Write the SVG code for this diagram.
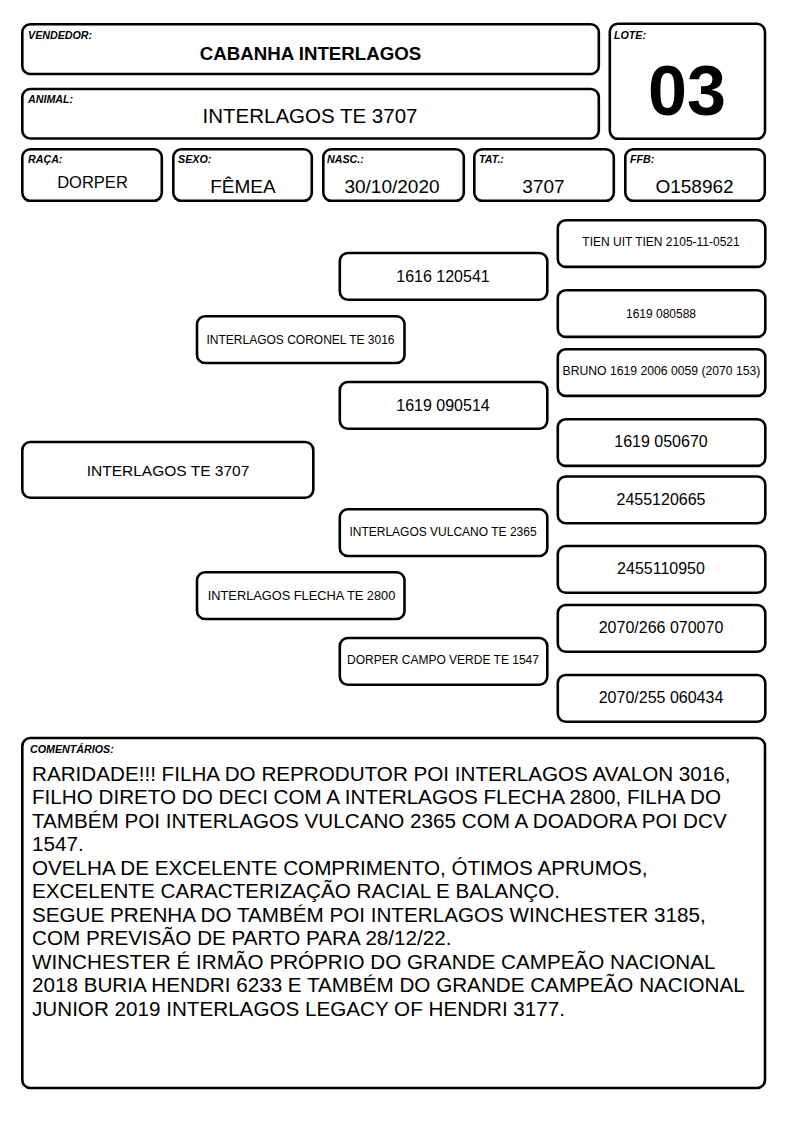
<svg xmlns="http://www.w3.org/2000/svg" width="794" height="1123" viewBox="0 0 794 1123">
<style>
  .box{fill:#fff;stroke:#000;stroke-width:2.6}
  text{font-family:"Liberation Sans",Arial,sans-serif;fill:#000}
  .lbl{font-size:10.7px;font-weight:bold;font-style:italic}
  .c{text-anchor:middle}
  .v{font-size:19px}
  .s{font-size:12px}
  .m{font-size:16px}
  .cm{font-size:20.65px}
</style>
<rect x="0" y="0" width="794" height="1123" fill="#fff"/>
<g id="vendedor">
  <rect class="box" x="22.3" y="24.3" width="576.5" height="49.7" rx="8"/>
  <text class="lbl" x="28" y="39">VENDEDOR:</text>
  <text class="c" x="310.5" y="60" font-size="18.7" font-weight="bold">CABANHA INTERLAGOS</text>
</g>
<g id="animal">
  <rect class="box" x="22.3" y="89" width="576.5" height="49.5" rx="8"/>
  <text class="lbl" x="28" y="102.5">ANIMAL:</text>
  <text class="c" x="310" y="123" font-size="20.5">INTERLAGOS TE 3707</text>
</g>
<g id="lote">
  <rect class="box" x="609.8" y="23.8" width="155.2" height="115" rx="8"/>
  <text class="lbl" x="614" y="38.5">LOTE:</text>
  <text class="c" x="687" y="115" font-size="70" font-weight="bold">03</text>
</g>
<g id="raca">
  <rect class="box" x="22.3" y="149.3" width="139.5" height="51.5" rx="8"/>
  <text class="lbl" x="28" y="163">RAÇA:</text>
  <text class="c" x="92.5" y="188" font-size="16.5">DORPER</text>
</g>
<g id="sexo">
  <rect class="box" x="173.3" y="149.3" width="138.5" height="51.5" rx="8"/>
  <text class="lbl" x="178" y="163">SEXO:</text>
  <text class="c v" x="243" y="193">FÊMEA</text>
</g>
<g id="nasc">
  <rect class="box" x="323.3" y="149.3" width="140.5" height="51.5" rx="8"/>
  <text class="lbl" x="327" y="163">NASC.:</text>
  <text class="c v" x="392" y="193">30/10/2020</text>
</g>
<g id="tat">
  <rect class="box" x="474.3" y="149.3" width="139.5" height="51.5" rx="8"/>
  <text class="lbl" x="479" y="163">TAT.:</text>
  <text class="c v" x="543.5" y="193">3707</text>
</g>
<g id="ffb">
  <rect class="box" x="625.3" y="149.3" width="139.5" height="51.5" rx="8"/>
  <text class="lbl" x="630" y="163">FFB:</text>
  <text class="c v" x="694.5" y="193">O158962</text>
</g>
<g id="connectors"></g>
<g id="ped-main">
  <rect class="box" x="22.3" y="442" width="291" height="55.7" rx="8"/>
  <text class="c" x="168" y="475.5" font-size="15.5">INTERLAGOS TE 3707</text>
</g>
<g id="ped-sire">
  <rect class="box" x="197" y="316.3" width="207.5" height="46.7" rx="8"/>
  <text class="c s" x="300.5" y="343.5">INTERLAGOS CORONEL TE 3016</text>
</g>
<g id="ped-dam">
  <rect class="box" x="197" y="572.3" width="207.5" height="46.7" rx="8"/>
  <text class="c" x="301.5" y="599.8" font-size="12.8">INTERLAGOS FLECHA TE 2800</text>
</g>
<g id="ped-ss">
  <rect class="box" x="339.8" y="253" width="207.5" height="46.7" rx="8"/>
  <text class="c m" x="443" y="281.7">1616 120541</text>
</g>
<g id="ped-sd">
  <rect class="box" x="339.8" y="382" width="207.5" height="46.7" rx="8"/>
  <text class="c m" x="443" y="410.7">1619 090514</text>
</g>
<g id="ped-ds">
  <rect class="box" x="339.8" y="509.3" width="207.5" height="46.7" rx="8"/>
  <text class="c s" x="443" y="535.5">INTERLAGOS VULCANO TE 2365</text>
</g>
<g id="ped-dd">
  <rect class="box" x="339.8" y="638" width="207.5" height="46.7" rx="8"/>
  <text class="c s" x="443" y="663.5">DORPER CAMPO VERDE TE 1547</text>
</g>
<g id="ped-sss">
  <rect class="box" x="557.8" y="220.2" width="207.5" height="46.7" rx="8"/>
  <text class="c s" x="661" y="245.5">TIEN UIT TIEN 2105-11-0521</text>
</g>
<g id="ped-ssd">
  <rect class="box" x="557.8" y="290.2" width="207.5" height="46.7" rx="8"/>
  <text class="c s" x="661" y="317.5">1619 080588</text>
</g>
<g id="ped-sds">
  <rect class="box" x="557.8" y="349.2" width="207.5" height="46.7" rx="8"/>
  <text class="c" x="661.5" y="374.5" font-size="12.2">BRUNO 1619 2006 0059 (2070 153)</text>
</g>
<g id="ped-sdd">
  <rect class="box" x="557.8" y="419.2" width="207.5" height="46.7" rx="8"/>
  <text class="c m" x="661" y="446.7">1619 050670</text>
</g>
<g id="ped-dss">
  <rect class="box" x="557.8" y="476.5" width="207.5" height="46.7" rx="8"/>
  <text class="c m" x="661" y="504.7">2455120665</text>
</g>
<g id="ped-dsd">
  <rect class="box" x="557.8" y="546" width="207.5" height="46.7" rx="8"/>
  <text class="c m" x="661" y="573.7">2455110950</text>
</g>
<g id="ped-dds">
  <rect class="box" x="557.8" y="605" width="207.5" height="46.7" rx="8"/>
  <text class="c m" x="661" y="632.7">2070/266 070070</text>
</g>
<g id="ped-ddd">
  <rect class="box" x="557.8" y="675" width="207.5" height="46.7" rx="8"/>
  <text class="c m" x="661" y="702.7">2070/255 060434</text>
</g>
<g id="comentarios">
  <rect class="box" x="22.3" y="738" width="742.7" height="350" rx="8"/>
  <text class="lbl" x="30" y="753" font-size="10.8">COMENTÁRIOS:</text>
  <text class="cm" x="32">
    <tspan x="32" y="780.5">RARIDADE!!! FILHA DO REPRODUTOR POI INTERLAGOS AVALON 3016,</tspan>
    <tspan x="32" y="804">FILHO DIRETO DO DECI COM A INTERLAGOS FLECHA 2800, FILHA DO</tspan>
    <tspan x="32" y="827.5">TAMBÉM POI INTERLAGOS VULCANO 2365 COM A DOADORA POI DCV</tspan>
    <tspan x="32" y="851">1547.</tspan>
    <tspan x="32" y="874.5">OVELHA DE EXCELENTE COMPRIMENTO, ÓTIMOS APRUMOS,</tspan>
    <tspan x="32" y="898">EXCELENTE CARACTERIZAÇÃO RACIAL E BALANÇO.</tspan>
    <tspan x="32" y="921.5">SEGUE PRENHA DO TAMBÉM POI INTERLAGOS WINCHESTER 3185,</tspan>
    <tspan x="32" y="945">COM PREVISÃO DE PARTO PARA 28/12/22.</tspan>
    <tspan x="32" y="968.5">WINCHESTER É IRMÃO PRÓPRIO DO GRANDE CAMPEÃO NACIONAL</tspan>
    <tspan x="32" y="992">2018 BURIA HENDRI 6233 E TAMBÉM DO GRANDE CAMPEÃO NACIONAL</tspan>
    <tspan x="32" y="1015.5">JUNIOR 2019 INTERLAGOS LEGACY OF HENDRI 3177.</tspan>
  </text>
</g>
</svg>
